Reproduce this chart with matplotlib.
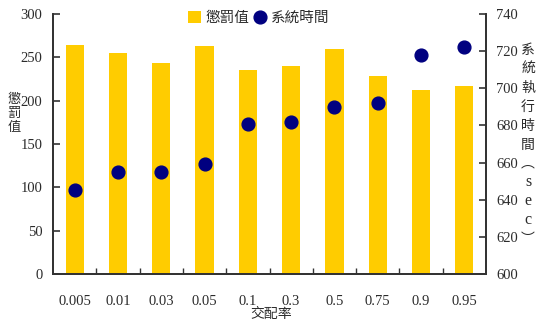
import matplotlib
matplotlib.use("Agg")
import matplotlib.pyplot as plt
import numpy as np

# Crossover rate experiment: penalty value (bars) and run time (points)
categories = ["0.005", "0.01", "0.03", "0.05", "0.1", "0.3", "0.5", "0.75", "0.9", "0.95"]
penalty = [264, 255, 243, 263, 235, 240, 260, 229, 212, 217]
run_time = [645, 655, 655, 659, 681, 682, 690, 692, 718, 722.5]

left_ticks = [0, 50, 100, 150, 200, 250, 300]
right_ticks = [600, 620, 640, 660, 680, 700, 720, 740]

cjk = ["Noto Sans CJK TC", "DejaVu Sans"]
num_font = "Liberation Serif"
bar_color = "#FFCC00"
dot_color = "#000080"
text_color = "#2b2b2b"

fig = plt.figure(figsize=(5.43, 3.24), dpi=100)
ax = fig.add_axes([53 / 543, 1 - 274 / 324, 433 / 543, 260 / 324])
ax2 = ax.twinx()

x = np.arange(len(categories))
bars = ax.bar(x, penalty, width=0.42, color=bar_color, zorder=2, label="懲罰值")
dots, = ax2.plot(x, run_time, linestyle="none", marker="o", markersize=9.2,
                 color=dot_color, label="系統時間", zorder=3)

ax.set_xlim(-0.5, len(categories) - 0.5)
ax.set_ylim(0, 300)
ax2.set_ylim(600, 740)

ax.set_yticks(left_ticks)
ax2.set_yticks(right_ticks)
ax.set_xticks(x)
ax.set_xticklabels(categories)
ax.set_xticks(np.arange(0.5, len(categories) - 1, 1.0), minor=True)

for a in (ax, ax2):
    a.spines["top"].set_visible(False)
    for s in ("left", "right", "bottom"):
        a.spines[s].set_color("#333333")
        a.spines[s].set_linewidth(1.3)

ax.tick_params(axis="y", direction="in", length=5, width=1.2, pad=7.5,
               labelsize=10.5, labelcolor=text_color, color="#333333")
ax2.tick_params(axis="y", direction="in", length=5, width=1.2, pad=7.5,
                labelsize=10.5, labelcolor=text_color, color="#333333")
ax.tick_params(axis="x", which="major", length=0, pad=15,
               labelsize=10.5, labelcolor=text_color)
ax.tick_params(axis="x", which="minor", direction="in", length=4, width=1.0,
               color="#333333")

for lbl in ax.get_yticklabels() + ax2.get_yticklabels() + ax.get_xticklabels():
    lbl.set_fontfamily(num_font)

# axis titles, written vertically one character per line
W, H = 543, 324
for i, ch in enumerate("懲罰值"):
    fig.text(14 / W, 1 - (99.5 + 14 * i) / H, ch, ha="center", va="center",
             fontsize=9.5, family=cjk, color=text_color)

right_title = ["系", "統", "執", "行", "時", "間", "︵", "s", "e", "c", "︶"]
for i, ch in enumerate(right_title):
    fam = cjk if ch not in "sec" else [num_font]
    fig.text(528 / W, 1 - (50 + 18.9 * i) / H, ch, ha="center", va="center",
             fontsize=10 if ch not in "sec" else 11.5, family=fam, color=text_color)

fig.text(271 / W, 1 - 314 / H, "交配率", ha="center", va="center",
         fontsize=10, family=cjk, color=text_color)

leg = ax2.legend([bars, dots], ["懲罰值", "系統時間"], loc="center",
                 bbox_to_anchor=(259 / W, 1 - 18 / H), bbox_transform=fig.transFigure,
                 ncol=2, frameon=False, handlelength=0.9, handleheight=0.9,
                 handletextpad=0.3, columnspacing=0.3, borderpad=0,
                 prop={"family": cjk, "size": 10.5})
for t in leg.get_texts():
    t.set_color(text_color)

fig.savefig("out.png", dpi=100)
